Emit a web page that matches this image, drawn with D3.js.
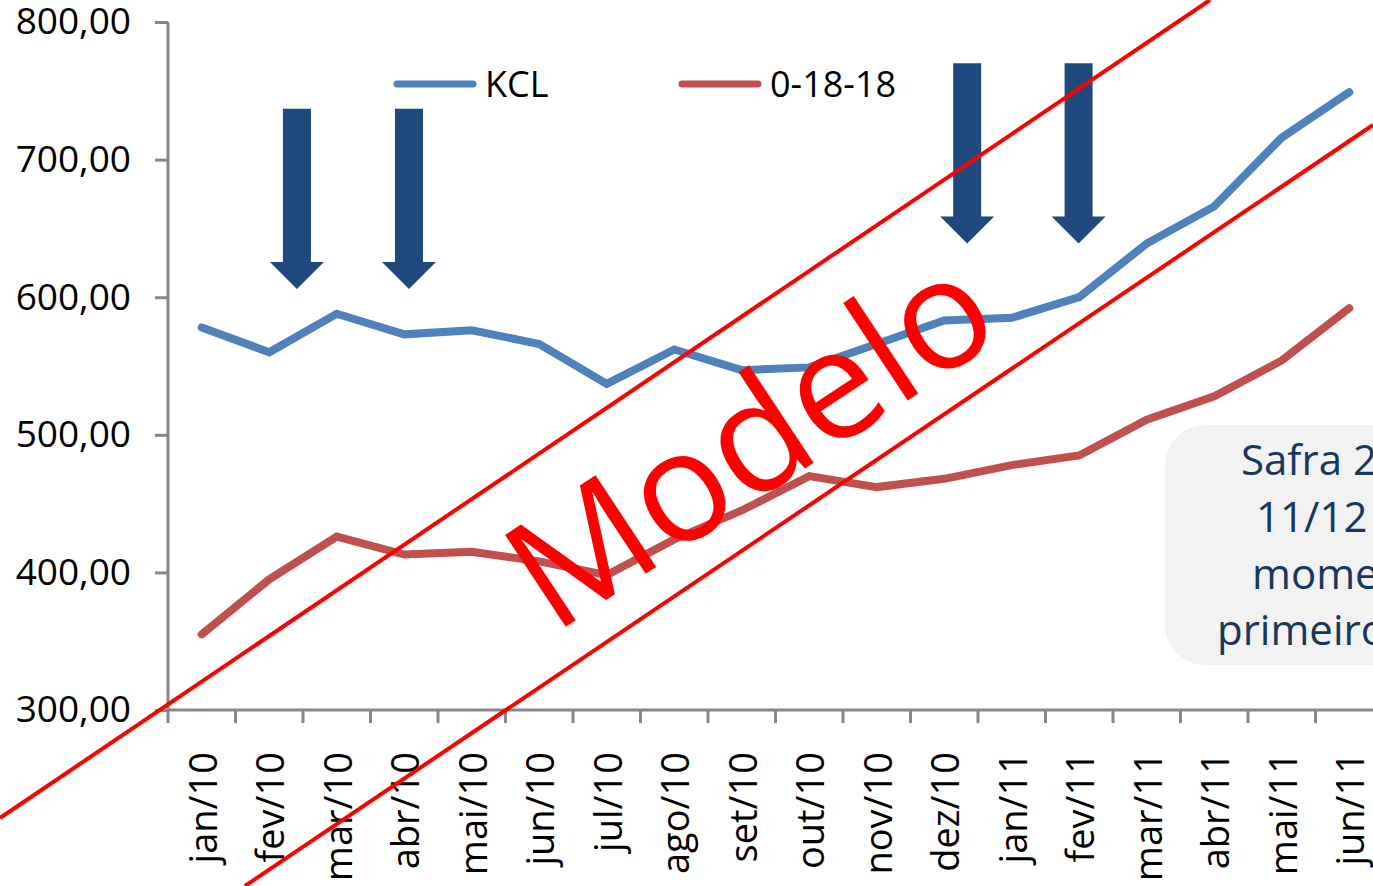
<!DOCTYPE html>
<html>
<head>
<meta charset="utf-8">
<script src="https://cdn.jsdelivr.net/npm/d3@7"></script>
<style>
  html, body { margin: 0; padding: 0; background: #fff; overflow: hidden; }
  svg { display: block; font-family: "Open Sans", "Liberation Sans", sans-serif; }
</style>
</head>
<body>
<svg id="chart" width="1373" height="886"></svg>
<script>
// ---- data ----
const categories = ["jan/10","fev/10","mar/10","abr/10","mai/10","jun/10","jul/10","ago/10","set/10","out/10","nov/10","dez/10","jan/11","fev/11","mar/11","abr/11","mai/11","jun/11"];
const kclValues = [578,560,588,573,576,566,537,562,547,549,566,583,585,600,639,666,716,749];
const npkValues = [355,395,426,413,415,408,398,424,445,470,462,468,478,485,511,528,554,592];
const seriesNames = ["KCL", "0-18-18"];
const yTickValues = [300,400,500,600,700,800];
const yTickLabels = ["300,00","400,00","500,00","600,00","700,00","800,00"];
// arrows: category, offset (fraction of step), top value, tip value
const arrowCats = ["fev/10","abr/10","dez/10","fev/11"];
const arrowOffsets = [0.41, 0.07, 0.34, -0.01];
const arrowTops = [737, 737, 770, 770];
const arrowTips = [606, 606, 639, 639];
const calloutLines = ["Safra 2011/", "11/12", "momento", "primeiro"];
const watermark = "Modelo";

// ---- layout ----
const svg = d3.select("#chart");
const W = 1373, H = 886;
const axisColor = "#878787";
const kclColor = "#4F81BD", npkColor = "#C0504D";

svg.append("rect").attr("width", W).attr("height", H).attr("fill", "#fff");

const x = d3.scaleBand().domain(categories).range([168, 168 + 18 * 67.5]).padding(0);
const y = d3.scaleLinear().domain([300, 800]).range([710, 22]);
const xc = c => x(c) + x.bandwidth() / 2;

// y axis
const yAxis = svg.append("g").attr("transform", "translate(168,0)")
  .call(d3.axisLeft(y).tickValues(yTickValues).tickFormat((d, i) => yTickLabels[i]).tickSize(13).tickPadding(24));
yAxis.select(".domain").attr("stroke", axisColor).attr("stroke-width", 3).attr("d", "M0,22V710");
yAxis.selectAll(".tick line").attr("stroke", axisColor).attr("stroke-width", 3);
yAxis.selectAll(".tick text").attr("font-size", 37).attr("fill", "#000").attr("font-family", "'Open Sans', sans-serif");

// x axis
const xAxisG = svg.append("g").attr("transform", "translate(0,710)");
xAxisG.append("line").attr("x1", 168).attr("x2", W).attr("y1", 0).attr("y2", 0)
  .attr("stroke", axisColor).attr("stroke-width", 3);
xAxisG.selectAll("line.tk").data(categories).enter().append("line").attr("class", "tk")
  .attr("x1", d => x(d)).attr("x2", d => x(d)).attr("y1", 0).attr("y2", 13)
  .attr("stroke", axisColor).attr("stroke-width", 3);
xAxisG.selectAll("text").data(categories).enter().append("text")
  .attr("transform", d => `translate(${xc(d) + 15},42) rotate(-90)`)
  .attr("text-anchor", "end")
  .attr("font-size", 38)
  .attr("fill", "#000")
  .text(d => d);

// lines
const line = d3.line().x((d, i) => xc(categories[i])).y(d => y(d));
[[kclValues, kclColor], [npkValues, npkColor]].forEach(([vals, col]) => {
  svg.append("path").datum(vals).attr("d", line).attr("fill", "none")
    .attr("stroke", col).attr("stroke-width", 8).attr("stroke-linejoin", "miter").attr("stroke-linecap", "round");
});

// legend
const legendItems = [{name: seriesNames[0], color: kclColor, x0: 397}, {name: seriesNames[1], color: npkColor, x0: 682}];
legendItems.forEach(it => {
  svg.append("line").attr("x1", it.x0).attr("x2", it.x0 + 76).attr("y1", 84).attr("y2", 84)
    .attr("stroke", it.color).attr("stroke-width", 7).attr("stroke-linecap", "round");
  svg.append("text").attr("x", it.x0 + 88).attr("y", 97).attr("font-size", 36).attr("fill", "#000").text(it.name);
});

// arrows
const step = x.step();
arrowCats.forEach((c, i) => {
  const cx = xc(c) + arrowOffsets[i] * step;
  const top = y(arrowTops[i]), tip = y(arrowTips[i]);
  const sw = 14, hw = 27, hh = 27;
  const pts = [[cx - sw, top], [cx + sw, top], [cx + sw, tip - hh], [cx + hw, tip - hh], [cx, tip],
               [cx - hw, tip - hh], [cx - sw, tip - hh]];
  svg.append("path").attr("d", "M" + pts.map(p => p.join(",")).join("L") + "Z").attr("fill", "#1F497D");
});

// callout box
svg.append("rect").attr("x", 1165).attr("y", 425).attr("width", 320).attr("height", 240)
  .attr("rx", 40).attr("ry", 40).attr("fill", "#F2F2F2");
const calloutX = [1241, 1256, 1252, 1217];
const calloutY = [475, 532, 589, 645];
calloutLines.forEach((t, i) => {
  svg.append("text").attr("x", calloutX[i]).attr("y", calloutY[i]).attr("font-size", 42)
    .attr("fill", "#17375E").text(t);
});

// watermark
const wm = svg.append("g");
wm.append("line").attr("x1", 0).attr("y1", 818).attr("x2", 1210).attr("y2", 0)
  .attr("stroke", "#FF0000").attr("stroke-width", 4);
wm.append("line").attr("x1", 245).attr("y1", 886).attr("x2", 1373).attr("y2", 125)
  .attr("stroke", "#FF0000").attr("stroke-width", 4);
wm.append("text").attr("transform", "translate(750,440) rotate(-33.5)")
  .attr("text-anchor", "middle").attr("y", 54)
  .attr("font-size", 154).attr("fill", "#FF0000").text(watermark);
</script>
</body>
</html>
